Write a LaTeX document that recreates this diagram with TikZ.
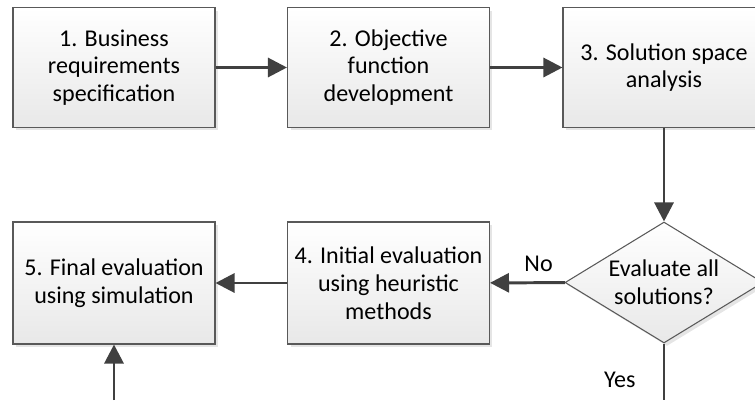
\documentclass[tikz,border=0pt]{standalone}
\usepackage{fontspec}
\setmainfont{Carlito}
\usetikzlibrary{positioning}
\usetikzlibrary{arrows.meta}
\usetikzlibrary{shapes.geometric}
\usetikzlibrary{shadows}

\tikzset{
  stepbox/.style={draw=black!65, line width=0.6pt, top color=white, bottom color=black!9,
    minimum width=4.04cm, minimum height=2.4cm, align=center, inner sep=2pt,
    drop shadow={shadow xshift=0.06cm, shadow yshift=-0.06cm, fill=black!10, opacity=1}},
  decision/.style={diamond, aspect=1.64, draw=black!65, line width=0.6pt, top color=white, bottom color=black!9,
    minimum width=3.96cm, minimum height=2.42cm, inner sep=0pt, align=center,
    drop shadow={shadow xshift=0.06cm, shadow yshift=-0.06cm, fill=black!10, opacity=1}},
  flow/.style={draw=black!75, line width=1.7pt, -{Triangle[length=0.38cm, width=0.38cm]}},
  every node/.style={font=\fontsize{13.7}{15.8}\selectfont}
}

\begin{document}
\begin{tikzpicture}[x=0.02cm, y=-0.02cm]
  \useasboundingbox (0,0) rectangle (755,400);
  \clip (0,0) rectangle (755,400);

  % top row
  \node[stepbox] (req) at (114,67.5) {1. Business\\requirements\\specification};
  \node[stepbox] (obj) at (388.5,67.5) {2. Objective\\function\\development};
  \node[stepbox] (space) at (664,67.5) {3. Solution space\\analysis};

  % bottom row
  \node[stepbox, minimum height=2.44cm] (final) at (114,283) {5. Final evaluation\\using simulation};
  \node[stepbox, minimum height=2.44cm] (initial) at (388.5,283) {4. Initial evaluation\\using heuristic\\methods};
  \node[decision] (evalall) at (664,282.5) {Evaluate all\\solutions?};

  \coordinate (yesend) at (664,400);
  \coordinate (finalin) at (114,400);

  \draw[flow] (req) -- (obj);
  \draw[flow] (obj) -- (space);
  \draw[flow] (space) -- (evalall);
  \draw[flow] (evalall) -- node[above, pos=0.35, yshift=2pt] {No} (initial);
  \draw[flow] (initial) -- (final);
  \draw[draw=black!75, line width=1.7pt] (evalall.south) -- node[left, pos=0.65, xshift=-12pt] {Yes} (yesend);
  \draw[flow] (finalin) -- (final);
\end{tikzpicture}
\end{document}
